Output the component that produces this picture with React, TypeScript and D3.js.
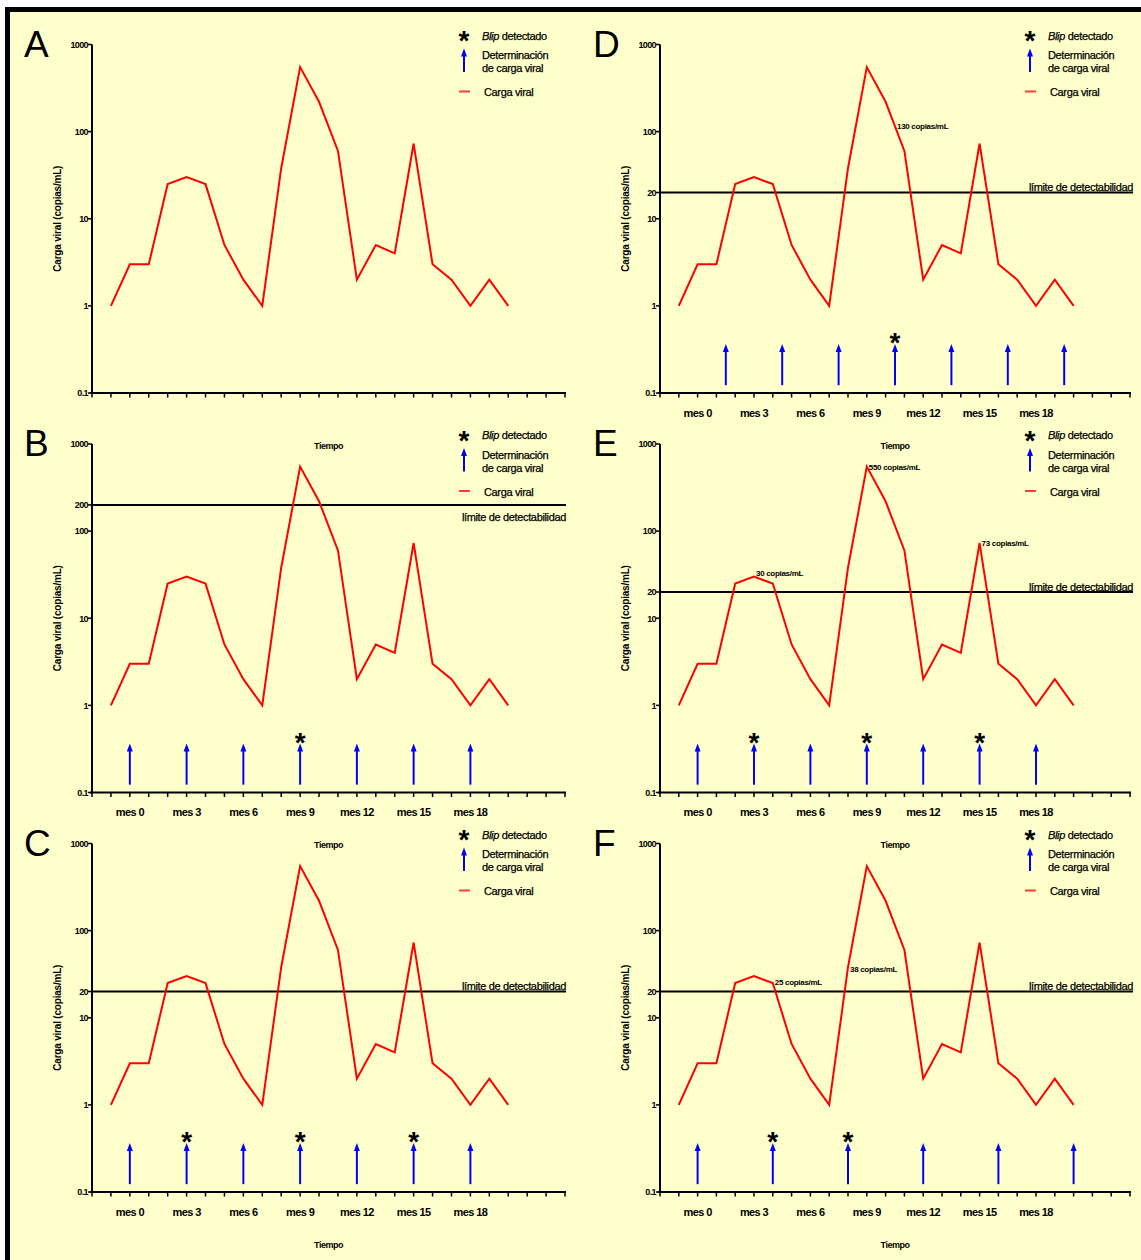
import React from "react";
import * as d3 from "d3";

// ---------- data ----------
const MONTHS = [-1, 0, 1, 2, 3, 4, 5, 6, 7, 8, 9, 10, 11, 12, 13, 14, 15, 16, 17, 18, 19, 20];
const VIRAL_LOAD = [1, 3, 3, 25, 30, 25, 5, 2, 1, 38, 550, 220, 60, 2, 5, 4, 73, 3, 2, 1, 2, 1];

const X_TICKS = [-2, -1, 0, 1, 2, 3, 4, 5, 6, 7, 8, 9, 10, 11, 12, 13, 14, 15, 16, 17, 18, 19, 20, 21, 22, 23];
const MONTH_LABEL_POS = [0, 3, 6, 9, 12, 15, 18];
const MONTH_LABELS = ["mes 0", "mes 3", "mes 6", "mes 9", "mes 12", "mes 15", "mes 18"];
const Y_TICKS = [0.1, 1, 10, 100, 1000];
const Y_TICK_LABELS = ["0.1", "1", "10", "100", "1000"];

const ARROWS_QUARTERLY = [0, 3, 6, 9, 12, 15, 18];
const ARROWS_D = [1.5, 4.5, 7.5, 10.5, 13.5, 16.5, 19.5];
const ARROWS_F = [0, 4, 8, 12, 16, 20];

const BLIPS_B = [9];
const BLIPS_C = [3, 9, 15];
const BLIPS_D = [10.5];
const BLIPS_E = [3, 9, 15];
const BLIPS_F = [4, 8];

const NOTES_D = [{ month: 10.5, value: 115, text: "130 copias/mL" }];
const NOTES_E = [
  { month: 3, value: 33, text: "30 copias/mL" },
  { month: 9, value: 550, text: "550 copias/mL" },
  { month: 15, value: 73, text: "73 copias/mL" },
];
const NOTES_F = [
  { month: 4, value: 26, text: "25 copias/mL" },
  { month: 8, value: 36, text: "38 copias/mL" },
];

const ARROW_BASE = 0.123;
const ARROW_TIP = 0.365;
const BLIP_LEVEL = 0.44;

type Note = { month: number; value: number; text: string };
type PanelCfg = {
  letter: string;
  col: number;
  row: number;
  arrows: number[];
  blips: number[];
  threshold: number | null;
  thresholdBelow?: boolean;
  notes: Note[];
  monthLabels: boolean;
};

const PANELS: PanelCfg[] = [
  { letter: "A", col: 0, row: 0, arrows: [], blips: [], threshold: null, notes: [], monthLabels: false },
  { letter: "B", col: 0, row: 1, arrows: ARROWS_QUARTERLY, blips: BLIPS_B, threshold: 200, thresholdBelow: true, notes: [], monthLabels: true },
  { letter: "C", col: 0, row: 2, arrows: ARROWS_QUARTERLY, blips: BLIPS_C, threshold: 20, notes: [], monthLabels: true },
  { letter: "D", col: 1, row: 0, arrows: ARROWS_D, blips: BLIPS_D, threshold: 20, notes: NOTES_D, monthLabels: true },
  { letter: "E", col: 1, row: 1, arrows: ARROWS_QUARTERLY, blips: BLIPS_E, threshold: 20, notes: NOTES_E, monthLabels: true },
  { letter: "F", col: 1, row: 2, arrows: ARROWS_F, blips: BLIPS_F, threshold: 20, notes: NOTES_F, monthLabels: true },
];

// ---------- layout ----------
const COL_X = [92, 660];
const COL_W = [473, 470];
const ROW_Y = [44.5, 444, 843.5];
const PLOT_H = 348.5;
const FONT = "'Liberation Sans', Arial, Helvetica, sans-serif";
const RED = "#ff0000";
const BLUE = "#0000ff";

function Asterisk({ x, y }: { x: number; y: number }) {
  const fs = 28;
  return (
    <text x={x} y={y + 0.55 * fs} textAnchor="middle" fontSize={fs} fontWeight="bold" fontFamily={FONT} fill="#000">
      *
    </text>
  );
}

function Arrow({ x, yBase, yTip }: { x: number; yBase: number; yTip: number }) {
  return (
    <g>
      <line x1={x} x2={x} y1={yBase} y2={yTip + 6} stroke={BLUE} strokeWidth={2} />
      <path d={`M${x},${yTip} L${x - 3},${yTip + 8} L${x + 3},${yTip + 8} Z`} fill={BLUE} />
    </g>
  );
}

const legendText = {
  fontSize: 11,
  letterSpacing: -0.35,
  fontFamily: FONT,
  fill: "#000",
  stroke: "#000",
  strokeWidth: 0.25,
} as const;

function Panel({ cfg }: { cfg: PanelCfg }) {
  const x0 = COL_X[cfg.col];
  const w = COL_W[cfg.col];
  const y0 = ROW_Y[cfg.row];
  const x = d3.scaleLinear().domain([-2, 23]).range([x0, x0 + w]);
  const y = d3.scaleLog().domain([0.1, 1000]).range([y0 + PLOT_H, y0]);
  const line = d3
    .line<number>()
    .x((_, i) => x(MONTHS[i]))
    .y((d) => y(d));
  const yBottom = y0 + PLOT_H;

  const yTicks = [...Y_TICKS];
  const yLabels = [...Y_TICK_LABELS];
  if (cfg.threshold) {
    yTicks.push(cfg.threshold);
    yLabels.push(String(cfg.threshold));
  }

  const lx = cfg.col === 0 ? 464 : 1030;
  const letterX = cfg.col === 0 ? 24 : 593;
  const thrRight = cfg.col === 0 ? 566 : 1133;

  return (
    <g>
      {/* panel letter */}
      <text x={letterX} y={y0 + 12} fontSize={37} fontFamily={FONT} fill="#000">
        {cfg.letter}
      </text>

      {/* y-axis title */}
      <text
        transform={`translate(${x0 - 31},${(y0 + yBottom) / 2}) rotate(-90)`}
        textAnchor="middle"
        fontSize={10}
        fontWeight="bold"
        letterSpacing={-0.2}
        fontFamily={FONT}
        fill="#000"
      >
        Carga viral (copias/mL)
      </text>

      {/* threshold line */}
      {cfg.threshold && (
        <g>
          <line x1={x0} x2={thrRight} y1={y(cfg.threshold)} y2={y(cfg.threshold)} stroke="#000" strokeWidth={2} />
          <text
            x={thrRight}
            y={cfg.thresholdBelow ? y(cfg.threshold) + 16 : y(cfg.threshold) - 1.5}
            textAnchor="end"
            {...legendText}
          >
            límite de detectabilidad
          </text>
        </g>
      )}

      {/* data line */}
      <path d={line(VIRAL_LOAD) || ""} fill="none" stroke={RED} strokeWidth={2} strokeLinejoin="miter" />

      {/* arrows */}
      {cfg.arrows.map((m) => (
        <Arrow key={"a" + m} x={x(m)} yBase={y(ARROW_BASE)} yTip={y(ARROW_TIP)} />
      ))}
      {/* blips */}
      {cfg.blips.map((m) => (
        <Asterisk key={"b" + m} x={x(m)} y={y(BLIP_LEVEL)} />
      ))}

      {/* notes */}
      {cfg.notes.map((n) => (
        <text
          key={n.text}
          x={x(n.month) + 2}
          y={y(n.value) + 3}
          fontSize={8}
          fontWeight="bold"
          letterSpacing={-0.3}
          fontFamily={FONT}
          fill="#000"
        >
          {n.text}
        </text>
      ))}

      {/* axes */}
      <line x1={x0} x2={x0} y1={y0} y2={yBottom + 1} stroke="#000" strokeWidth={2} />
      <line x1={x0 - 2} x2={x0 + w + 1} y1={yBottom} y2={yBottom} stroke="#000" strokeWidth={2} />
      {yTicks.map((t, i) => (
        <g key={"yt" + t}>
          <line x1={x0 - 4} x2={x0} y1={y(t)} y2={y(t)} stroke="#000" strokeWidth={1.5} />
          <text
            x={x0 - 4}
            y={y(t) + 3.3}
            textAnchor="end"
            fontSize={9}
            fontWeight="bold"
            letterSpacing={-0.6}
            fontFamily={FONT}
            fill="#000"
          >
            {yLabels[i]}
          </text>
        </g>
      ))}
      {X_TICKS.map((t) => (
        <line key={"xt" + t} x1={x(t)} x2={x(t)} y1={yBottom} y2={yBottom + 4.5} stroke="#000" strokeWidth={1.5} />
      ))}
      {cfg.monthLabels &&
        MONTH_LABEL_POS.map((m, i) => (
          <text
            key={"ml" + m}
            x={x(m)}
            y={yBottom + 23.5}
            textAnchor="middle"
            fontSize={11}
            fontWeight="bold"
            letterSpacing={-0.6}
            fontFamily={FONT}
            fill="#000"
          >
            {MONTH_LABELS[i]}
          </text>
        ))}
      <text
        x={x0 + w / 2}
        y={yBottom + 55.5}
        textAnchor="middle"
        fontSize={9}
        fontWeight="bold"
        letterSpacing={-0.5}
        fontFamily={FONT}
        fill="#000"
      >
        Tiempo
      </text>

      {/* legend */}
      <Asterisk x={lx} y={y0 - 9.5} />
      <text x={lx + 18} y={y0 - 5} {...legendText}>
        <tspan fontStyle="italic">Blip</tspan> detectado
      </text>
      <Arrow x={lx} yBase={y0 + 27.5} yTip={y0 + 4} />
      <text x={lx + 18} y={y0 + 14.5} {...legendText}>
        Determinación
      </text>
      <text x={lx + 18} y={y0 + 27.5} {...legendText}>
        de carga viral
      </text>
      <line x1={lx - 5} x2={lx + 6} y1={y0 + 47} y2={y0 + 47} stroke="#ff3b3b" strokeWidth={2} />
      <text x={lx + 20} y={y0 + 51.5} {...legendText}>
        Carga viral
      </text>
    </g>
  );
}

export default function App() {
  return (
    <svg
      width={1141}
      height={1260}
      style={{ position: "absolute", left: 0, top: 0, display: "block" }}
      xmlns="http://www.w3.org/2000/svg"
    >
      <rect x={0} y={0} width={1141} height={1260} fill="#ffffff" />
      <rect x={5} y={7} width={1136} height={1253} fill="#000000" />
      <rect x={10} y={12} width={1131} height={1248} fill="#ffffcc" />
      {PANELS.map((p) => (
        <Panel key={p.letter} cfg={p} />
      ))}
    </svg>
  );
}
